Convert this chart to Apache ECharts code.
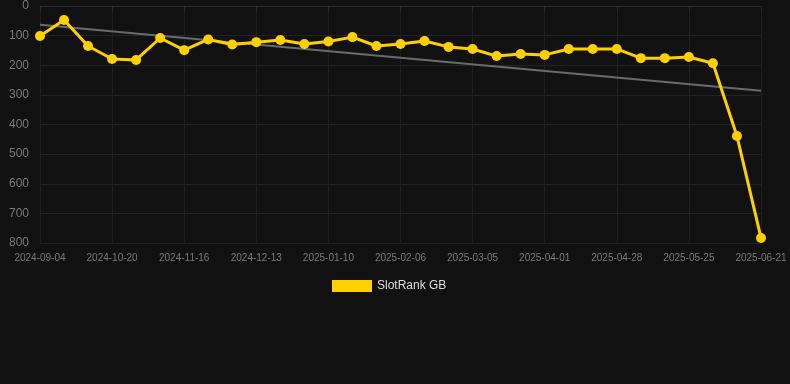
<!DOCTYPE html>
<html><head><meta charset="utf-8">
<script src="https://cdn.jsdelivr.net/npm/echarts@6/dist/echarts.min.js"></script>
<style>html,body{margin:0;padding:0;background:#111111;}#c{width:790px;height:384px;}</style>
</head><body><div id="c"></div>
<script>
const categories = [
 '2024-09-04','2024-09-19','2024-10-05','2024-10-20','2024-10-29','2024-11-07','2024-11-16','2024-11-25','2024-12-04','2024-12-13',
 '2024-12-22','2025-01-01','2025-01-10','2025-01-19','2025-01-28','2025-02-06','2025-02-15','2025-02-24','2025-03-05','2025-03-14',
 '2025-03-23','2025-04-01','2025-04-10','2025-04-19','2025-04-28','2025-05-07','2025-05-16','2025-05-25','2025-06-03','2025-06-12','2025-06-21'
];
const rankValues = [101,47,135,179,182,108,149,113,130,122,115,128,120,105,135,128,118,138,145,169,162,165,145,145,145,176,176,172,193,439,783];
const trendStart = 63;
const trendEnd = 286;
const yTicks = {min:0, max:800, interval:100};

const trendData = categories.map((c,i)=> i===0 ? trendStart : (i===categories.length-1 ? trendEnd : null));

const chart = echarts.init(document.getElementById('c'));
chart.setOption({
  backgroundColor:'#111111',
  animation:false,
  grid:{left:40,right:29,top:6,bottom:141},
  legend:{
    data:['SlotRank GB'],
    top:275, left:327,
    itemWidth:40, itemHeight:12,
    textStyle:{color:'#dddddd', fontSize:12, fontFamily:'Arial, Liberation Sans, sans-serif'},
    icon:'rect'
  },
  xAxis:{
    type:'category', data:categories, boundaryGap:false,
    axisLine:{show:true, lineStyle:{color:'#2a2a2a'}},
    axisTick:{show:true, interval:2, lineStyle:{color:'#2a2a2a'}},
    axisLabel:{interval:2, color:'#7a7a7a', fontSize:10, margin:10, fontFamily:'Arial, Liberation Sans, sans-serif'},
    splitLine:{show:true, interval:2, lineStyle:{color:'#1f1f1f'}}
  },
  yAxis:{
    type:'value', inverse:true, min:yTicks.min, max:yTicks.max, interval:yTicks.interval,
    axisLine:{show:false}, axisTick:{show:false},
    axisLabel:{color:'#7a7a7a', fontSize:12, margin:11, fontFamily:'Arial, Liberation Sans, sans-serif'},
    splitLine:{lineStyle:{color:'#222222'}}
  },
  series:[
    {name:'Trend', type:'line', data:trendData, connectNulls:true, symbol:'none',
     lineStyle:{color:'#6a6a6a', width:2}, z:1},
    {name:'SlotRank GB', type:'line', data:rankValues, symbol:'circle', symbolSize:10,
     itemStyle:{color:'#FFD000'}, lineStyle:{color:'#FFD000', width:3}, z:2}
  ]
});
</script></body></html>
